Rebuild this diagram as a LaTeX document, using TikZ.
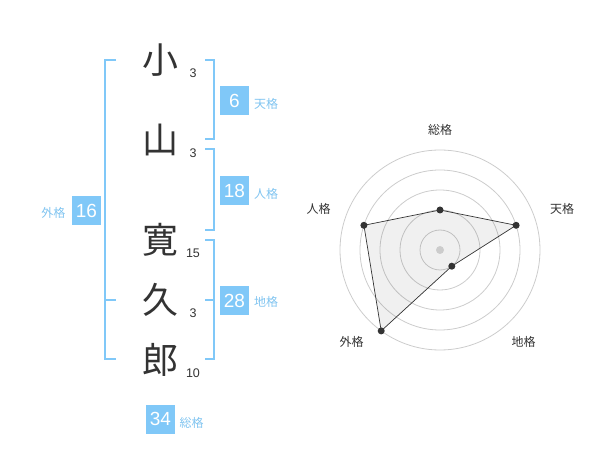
\documentclass[tikz,border=0pt]{standalone}
\usepackage{fontspec}
\setmainfont{Liberation Sans}
\newfontfamily\cjk{Noto Sans CJK JP}
\definecolor{brk}{RGB}{128,200,248}
\definecolor{boxc}{RGB}{128,200,248}
\definecolor{lblc}{RGB}{128,196,240}
\definecolor{ink}{RGB}{51,51,51}
\definecolor{ringc}{RGB}{204,204,204}
\begin{document}
\begin{tikzpicture}[x=1pt,y=-1pt,
  kanji/.style={inner sep=0pt,text=ink,font=\cjk\fontsize{36}{36}\selectfont},
  strokes/.style={inner sep=0pt,text=ink,font=\fontsize{12.5}{12.5}\selectfont},
  numbox/.style={fill=boxc,text=white,minimum width=29pt,minimum height=29pt,inner sep=0pt,font=\fontsize{19}{19}\selectfont},
  kaku/.style={inner sep=0pt,text=lblc,font=\cjk\fontsize{12}{12}\selectfont},
  bracket/.style={draw=brk,line width=1.6pt},
  ring/.style={draw=ringc,line width=0.8pt},
  rlabel/.style={inner sep=0pt,text=ink,font=\cjk\fontsize{12}{12}\selectfont},
  vdot/.style={circle,fill=ink,inner sep=0pt,minimum size=7pt}]
\useasboundingbox (0,0) rectangle (600,470);
% name characters
\node[kanji] (k1) at (160,60) {小};
\node[kanji] (k2) at (160,140) {山};
\node[kanji] (k3) at (160,240) {寛};
\node[kanji] (k4) at (160,300) {久};
\node[kanji] (k5) at (160,360) {郎};
\node[strokes] (s1) at (193,73) {3};
\node[strokes] (s2) at (193,153) {3};
\node[strokes] (s3) at (193,253) {15};
\node[strokes] (s4) at (193,313) {3};
\node[strokes] (s5) at (193,373) {10};
% brackets
\draw[bracket] (116,60) -- (105,60) -- (105,359) -- (116,359);
\draw[bracket] (105,300) -- (116,300);
\draw[bracket] (205,60) -- (214,60) -- (214,139) -- (205,139);
\draw[bracket] (205,149) -- (214,149) -- (214,230) -- (205,230);
\draw[bracket] (205,240) -- (214,240) -- (214,359) -- (205,359);
\draw[bracket] (205,300) -- (214,300);
% number boxes
\node[numbox] (b1) at (234.5,100.5) {6};
\node[numbox] (b2) at (234.5,190.5) {18};
\node[numbox] (b3) at (234.5,300.5) {28};
\node[numbox] (b4) at (86.5,211) {16};
\node[numbox] (b5) at (160.5,419) {34};
\node[kaku,anchor=west] (l1) at (254,104) {天格};
\node[kaku,anchor=west] (l2) at (254,194) {人格};
\node[kaku,anchor=west] (l3) at (254,302) {地格};
\node[kaku] (l4) at (53.5,213) {外格};
\node[kaku] (l5) at (191.5,423) {総格};
% radar chart
\foreach \r in {20,40,60,80,100} \draw[ring] (440,250) circle (\r);
\coordinate (pso) at (440,210);
\coordinate (pten) at (516.1,225.3);
\coordinate (pchi) at (451.8,266.2);
\coordinate (pgai) at (381.2,330.9);
\coordinate (pjin) at (363.9,225.3);
\filldraw[fill=black,fill opacity=0.06,draw=ink,line width=0.7pt] (pso) -- (pten) -- (pchi) -- (pgai) -- (pjin) -- cycle;
\fill[ringc] (440,250) circle (4);
\node[vdot] (dso) at (pso) {};
\node[vdot] (dten) at (pten) {};
\node[vdot] (dchi) at (pchi) {};
\node[vdot] (dgai) at (pgai) {};
\node[vdot] (djin) at (pjin) {};
\node[rlabel] (rso) at (440,130) {総格};
\node[rlabel] (rten) at (562,208.5) {天格};
\node[rlabel] (rjin) at (318.5,208.5) {人格};
\node[rlabel] (rgai) at (351.5,342) {外格};
\node[rlabel] (rchi) at (523.5,342) {地格};
\end{tikzpicture}
\end{document}
